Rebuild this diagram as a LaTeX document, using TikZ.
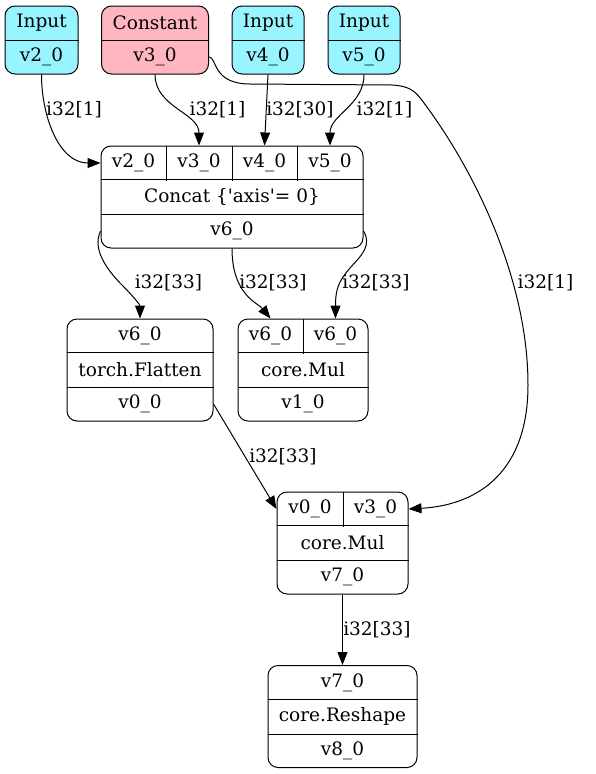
\documentclass[tikz,border=0pt]{standalone}
\usepackage{fontspec}
\setmainfont{DejaVu Serif}
\usepackage{tikz}
\usetikzlibrary{arrows.meta, positioning}
\definecolor{inputcyan}{RGB}{152,245,255}
\definecolor{constpink}{RGB}{255,182,193}

\begin{document}
\begin{tikzpicture}
[x = 1pt, y = -1pt, line width = 1pt, >={Triangle[length=13pt,width=10pt]},
 every node/.style = {font=\fontsize{18.5}{22}\selectfont},
 recbox/.style = {rectangle, rounded corners=10pt, draw=black, inner sep=0pt, minimum height=102pt},
 cell/.style = {rectangle, inner sep=0pt, minimum height=34pt},
 elabel/.style = {inner sep=0pt}]
\useasboundingbox (0,0) rectangle (595,774);

% sources
\node[recbox, fill=inputcyan, minimum width=73pt, minimum height=68pt] (in2) at (41.5,40) {};
\node[cell, minimum width=73pt] (in2h) at (41.5,23) {Input};
\node[cell, minimum width=73pt] (in2v) at (41.5,57) {v2\_0};
\node[recbox, fill=constpink, minimum width=107pt, minimum height=68pt] (c3) at (155,40) {};
\node[cell, minimum width=107pt] (c3h) at (155,23) {Constant};
\node[cell, minimum width=107pt] (c3v) at (155,57) {v3\_0};
\node[recbox, fill=inputcyan, minimum width=72pt, minimum height=68pt] (in4) at (268,40) {};
\node[cell, minimum width=72pt] (in4h) at (268,23) {Input};
\node[cell, minimum width=72pt] (in4v) at (268,57) {v4\_0};
\node[recbox, fill=inputcyan, minimum width=72pt, minimum height=68pt] (in5) at (364,40) {};
\node[cell, minimum width=72pt] (in5h) at (364,23) {Input};
\node[cell, minimum width=72pt] (in5v) at (364,57) {v5\_0};
\draw (in2h.south west) -- (in2h.south east) (c3h.south west) -- (c3h.south east);
\draw (in4h.south west) -- (in4h.south east) (in5h.south west) -- (in5h.south east);

% concat
\node[recbox, minimum width=262pt] (concat) at (232,197) {};
\node[cell, minimum width=65pt] (cc2) at (133.5,163) {v2\_0};
\node[cell, minimum width=66pt] (cc3) at (199,163) {v3\_0};
\node[cell, minimum width=65pt] (cc4) at (264.5,163) {v4\_0};
\node[cell, minimum width=66pt] (cc5) at (330,163) {v5\_0};
\node[cell, minimum width=262pt] (cop) at (232,197) {Concat \{\textquotesingle axis\textquotesingle= 0\}};
\node[cell, minimum width=262pt] (cv6) at (232,231) {v6\_0};
\draw (cop.north west) -- (cop.north east) (cop.south west) -- (cop.south east);
\draw (cc2.north east) -- (cc2.south east) (cc3.north east) -- (cc3.south east) (cc4.north east) -- (cc4.south east);

% flatten and first mul
\node[recbox, minimum width=146pt] (flatten) at (140,370) {};
\node[cell, minimum width=146pt] (fl1) at (140,336) {v6\_0};
\node[cell, minimum width=146pt] (flop) at (140,370) {torch.Flatten};
\node[cell, minimum width=146pt] (fl0) at (140,404) {v0\_0};
\draw (flop.north west) -- (flop.north east) (flop.south west) -- (flop.south east);
\node[recbox, minimum width=130pt] (mul1) at (303,370) {};
\node[cell, minimum width=65pt] (m1a) at (270.5,336) {v6\_0};
\node[cell, minimum width=65pt] (m1b) at (335.5,336) {v6\_0};
\node[cell, minimum width=130pt] (m1op) at (303,370) {core.Mul};
\node[cell, minimum width=130pt] (m1o) at (303,404) {v1\_0};
\draw (m1op.north west) -- (m1op.north east) (m1op.south west) -- (m1op.south east) (m1a.north east) -- (m1a.south east);

% second mul and reshape
\node[recbox, minimum width=131pt] (mul2) at (342.5,543) {};
\node[cell, minimum width=66pt] (m2a) at (310,509) {v0\_0};
\node[cell, minimum width=65pt] (m2b) at (375.5,509) {v3\_0};
\node[cell, minimum width=131pt] (m2op) at (342.5,543) {core.Mul};
\node[cell, minimum width=131pt] (m2o) at (342.5,577) {v7\_0};
\draw (m2op.north west) -- (m2op.north east) (m2op.south west) -- (m2op.south east) (m2a.north east) -- (m2a.south east);
\node[recbox, minimum width=149pt] (reshape) at (342.5,716.5) {};
\node[cell, minimum width=149pt] (rs1) at (342.5,682.5) {v7\_0};
\node[cell, minimum width=149pt] (rsop) at (342.5,716.5) {core.Reshape};
\node[cell, minimum width=149pt] (rs8) at (342.5,750.5) {v8\_0};
\draw (rsop.north west) -- (rsop.north east) (rsop.south west) -- (rsop.south east);

% edges
\draw[->] (in2v.south) to[out=-90,in=180] (cc2.west) node[elabel] at (74,110) {i32[1]};
\draw[->] (c3v.south) to[out=-90,in=90] (cc3.north) node[elabel] at (217.5,110) {i32[1]};
\draw[->] (in4v.south) -- (cc4.north) node[elabel] at (300,110) {i32[30]};
\draw[->] (in5v.south) to[out=-90,in=90] (cc5.north) node[elabel] at (384.5,110) {i32[1]};
\draw[->] (cv6.west) .. controls (94,245) and (100,262) .. (120,283) .. controls (135,298) and (140,305) .. (fl1.north) node[elabel] at (168.5,283) {i32[33]};
\draw[->] (cv6.south) .. controls (232,295) and (258,303) .. (m1a.north) node[elabel] at (273,283) {i32[33]};
\draw[->] (cv6.east) .. controls (372,245) and (362,255) .. (350,268) .. controls (338,282) and (335.5,290) .. (m1b.north) node[elabel] at (376,283) {i32[33]};
\draw[->] (c3v.east) .. controls (217,57) and (212,84) .. (250,84) -- (392,85) .. controls (408,86) and (414,90) .. (421,99) .. controls (475,170) and (528,280) .. (528,385) .. controls (528,470) and (480,505) .. (m2b.east) node[elabel] at (545.5,283) {i32[1]};
\draw[->] (fl0.east) -- (m2a.west) node[elabel] at (283,457) {i32[33]};
\draw[->] (m2o.south) -- (rs1.north) node[elabel] at (377,630) {i32[33]};

\end{tikzpicture}
\end{document}
